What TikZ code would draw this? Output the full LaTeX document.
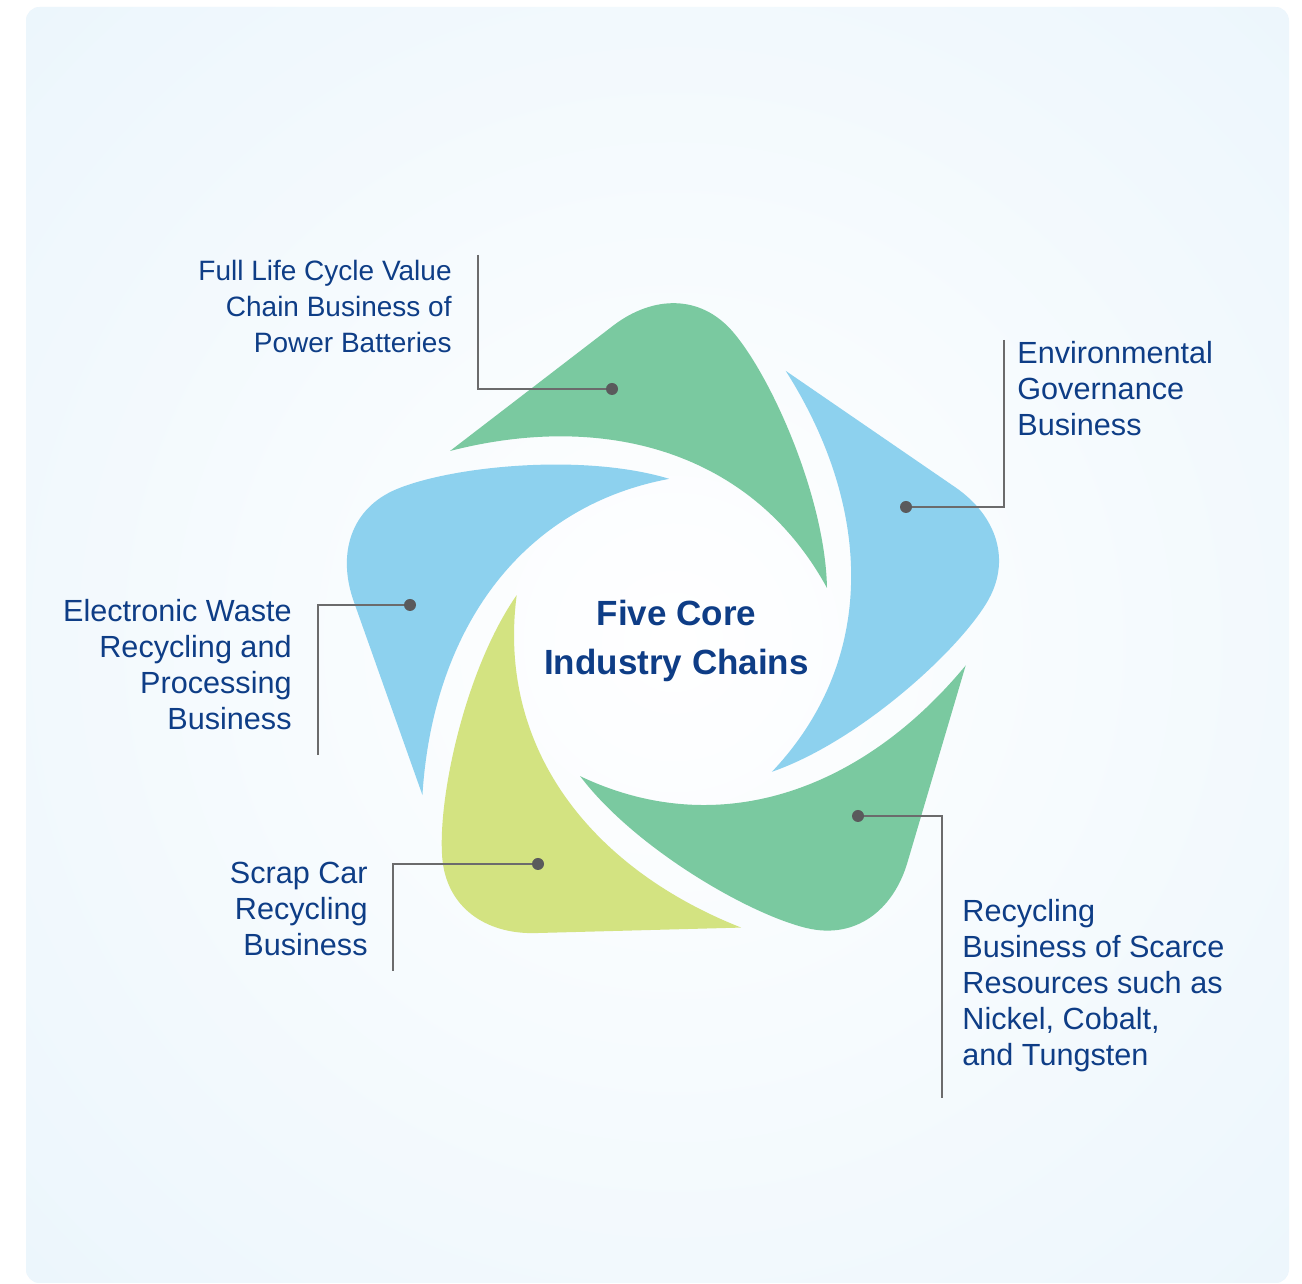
\documentclass[tikz,border=0pt]{standalone}
\usepackage{fontspec}
\setmainfont{Liberation Sans}
\definecolor{fondo}{HTML}{EAF5FC}
\definecolor{verde}{HTML}{7AC9A0}
\definecolor{celeste}{HTML}{8DD1EE}
\definecolor{lima}{HTML}{D3E381}
\definecolor{azul}{HTML}{0E3D86}
\definecolor{gris}{HTML}{5A5A5C}
\tikzset{
	chaintext/.style={font=\fontsize{15.3}{18}\selectfont, text=azul, inner sep=0pt},
	chaindot/.style={circle, fill=gris, inner sep=0pt, minimum size=6pt},
	chainline/.style={draw=gris!90, line width=0.75pt}
}
\begin{document}
\begin{tikzpicture}[x=0.5pt, y=0.5pt]
		\useasboundingbox (0,0) rectangle (1302,1284);
		% Fondo
			\fill[white] (0,0) rectangle (1302,1284);
			\begin{scope}
				\clip[rounded corners=7pt] (26,1) rectangle (1289,1277);
				\fill[fondo] (26,1) rectangle (1289,1277);
				\shade[inner color=white, outer color=fondo] (673,642) circle (1000);
			\end{scope}
		% Pétalos
			\foreach \i/\col in {0/verde, 1/celeste, 2/verde, 3/lima, 4/celeste}
				\fill[\col, shift={(673,642)}, rotate=-72*\i] (-223,191) -- (-60,316.2)
					.. controls (-20.35,346.65) and (27.5,348) .. (60,310)
					.. controls (99,264.4) and (152.2,144) .. (154,54)
					.. controls (79.6,190.4) and (-67.8,231) .. (-223,191) -- cycle;
		% Título
			\node[font=\bfseries\fontsize{17.5}{24.3}\selectfont, text=azul, align=center, anchor=north, inner sep=0pt] (centro) at (676.5,684) {Five Core\\Industry Chains};
		% Etiquetas
			\node[chaintext, font=\fontsize{14}{18}\selectfont, anchor=north east, align=right] (t1) at (452,1024) {Full Life Cycle Value\\Chain Business of\\Power Batteries};
			\node[chaintext, anchor=north west, align=left] (t2) at (1017,943) {Environmental\\Governance\\Business};
			\node[chaintext, anchor=north east, align=right] (t3) at (292,685) {Electronic Waste\\Recycling and\\Processing\\Business};
			\node[chaintext, anchor=north east, align=right] (t4) at (368,422) {Scrap Car\\Recycling\\Business};
			\node[chaintext, anchor=north west, align=left] (t5) at (962,385) {Recycling\\Business of Scarce\\Resources such as\\Nickel, Cobalt,\\and Tungsten};
		% Líneas guía
			\coordinate (e1) at (478,1029);
			\coordinate (e2) at (1004,944);
			\coordinate (e3) at (318,529);
			\coordinate (e4) at (393,313);
			\coordinate (e5) at (942,186);
			\node[chaindot] (d1) at (612,895) {};
			\node[chaindot] (d2) at (906,777) {};
			\node[chaindot] (d3) at (410,679) {};
			\node[chaindot] (d4) at (538,420) {};
			\node[chaindot] (d5) at (858,468) {};
			\draw[chainline] (e1) |- (d1);
			\draw[chainline] (e2) |- (d2);
			\draw[chainline] (e3) |- (d3);
			\draw[chainline] (e4) |- (d4);
			\draw[chainline] (e5) |- (d5);
	\end{tikzpicture}
\end{document}
